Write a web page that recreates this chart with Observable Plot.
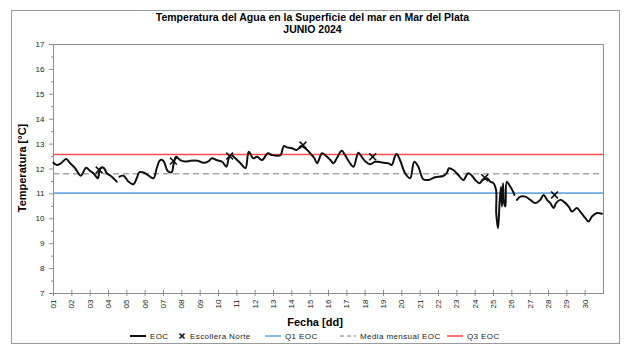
<!DOCTYPE html>
<html>
<head>
<meta charset="utf-8">
<script src="https://cdn.jsdelivr.net/npm/d3@7"></script>
<script src="https://cdn.jsdelivr.net/npm/@observablehq/plot@0.6"></script>
<style>
  html, body { margin: 0; padding: 0; background: #fff; }
  #wrap { position: relative; width: 625px; height: 350px; overflow: hidden; font-family: "Liberation Sans", Arial, sans-serif; }
  #border { position: absolute; left: 11px; top: 10px; width: 609px; height: 334px; border: 1px solid #9a9a9a; box-sizing: border-box; pointer-events: none; }
  #title { position: absolute; left: 0; top: 11px; width: 625px; text-align: center; font-family: "Liberation Sans Narrow", "Arial Narrow", "Liberation Sans", sans-serif; font-weight: bold; font-size: 10.5px; line-height: 12px; color: #000; }
  #ytitle { position: absolute; left: 22px; top: 168px; transform: translate(-50%, -50%) rotate(-90deg); white-space: nowrap; font-family: "Liberation Sans Narrow", "Arial Narrow", "Liberation Sans", sans-serif; font-weight: bold; font-size: 11px; color: #000; }
  #xtitle { position: absolute; left: 315px; top: 322px; transform: translate(-50%, -50%); white-space: nowrap; font-family: "Liberation Sans Narrow", "Arial Narrow", "Liberation Sans", sans-serif; font-weight: bold; font-size: 11px; color: #000; }
  #legend { position: absolute; left: 0; top: 331px; width: 625px; height: 12px; font-size: 8px; letter-spacing: 0.4px; color: #222; }
  .li { position: absolute; top: 0; display: flex; align-items: center; white-space: nowrap; }
  .li svg { margin-right: 4px; }
  #chart { position: absolute; left: 0; top: 0; }
</style>
</head>
<body>
<div id="wrap">
  <div id="chart"></div>
  <div id="border"></div>
  <div id="title">Temperatura del Agua en la Superficie del mar en Mar del Plata<br>JUNIO 2024</div>
  <div id="ytitle">Temperatura [°C]</div>
  <div id="xtitle">Fecha [dd]</div>
  <div id="legend"></div>
</div>
<script>
// ---- Data ----
const eocDay = [
  1.00, 1.18, 1.40, 1.69, 1.91, 2.18, 2.49, 2.78, 3.00, 3.18, 3.42, 3.55, 3.73, 3.91, 4.18, 4.45,
  4.52,
  4.60, 4.82, 5.09, 5.36, 5.54, 5.69, 6.00, 6.45, 6.63, 6.82, 7.00, 7.23, 7.45, 7.54, 7.69, 7.91,
  8.18, 8.47, 8.84, 9.20, 9.47, 9.65, 9.92, 10.20, 10.43, 10.56, 10.69, 10.92, 11.20, 11.47, 11.65,
  11.89, 12.10, 12.38, 12.69, 12.92, 13.38, 13.56, 13.74, 14.01, 14.25, 14.38, 14.50, 14.74, 15.01,
  15.23, 15.38, 15.65, 15.92, 16.10, 16.27, 16.45, 16.72, 16.90, 17.12, 17.36, 17.63, 17.81, 18.03,
  18.27, 18.54, 18.72, 18.99, 19.27, 19.45, 19.63, 19.72, 19.90, 20.18, 20.45, 20.68, 20.90, 21.17,
  21.45, 21.81, 22.26, 22.45, 22.57, 22.81, 23.08, 23.36, 23.61, 23.79, 24.01, 24.23, 24.41, 24.65,
  24.83, 25.00, 25.14, 25.15, 25.25, 25.33, 25.41, 25.46, 25.52, 25.57, 25.65, 25.72, 25.86, 26.07,
  26.14,
  26.21,
  26.28, 26.46, 26.74, 27.01, 27.28, 27.55, 27.73, 27.92, 28.10, 28.28, 28.41, 28.64, 28.83, 29.10,
  29.28, 29.55, 29.73, 30.01, 30.19, 30.37, 30.64, 30.91
];
const eocTemp = [
  12.25, 12.16, 12.23, 12.40, 12.23, 12.03, 11.73, 12.05, 11.92, 11.83, 11.63, 12.03, 12.05, 11.83, 11.69, 11.49,
  NaN,
  11.69, 11.73, 11.49, 11.39, 11.63, 11.87, 11.83, 11.63, 12.03, 12.36, 12.32, 11.92, 11.87, 12.16, 12.49, 12.36,
  12.30, 12.33, 12.33, 12.25, 12.32, 12.43, 12.35, 12.29, 12.09, 12.43, 12.56, 12.43, 12.23, 12.03, 12.69,
  12.43, 12.49, 12.36, 12.63, 12.56, 12.56, 12.92, 12.87, 12.83, 12.76, 12.83, 12.92, 12.83, 12.63,
  12.43, 12.23, 12.63, 12.49, 12.36, 12.23, 12.43, 12.73, 12.56, 12.29, 12.09, 12.65, 12.49, 12.29,
  12.19, 12.29, 12.29, 12.25, 12.23, 12.16, 12.52, 12.60, 12.36, 11.83, 11.63, 12.29, 12.09, 11.59,
  11.56, 11.67, 11.72, 11.83, 12.03, 11.96, 11.76, 11.56, 11.83, 11.76, 11.56, 11.43, 11.56, 11.63,
  11.49, 11.43, 11.16, 10.23, 9.63, 10.63, 11.29, 10.49, 11.43, 10.66, 10.49, 11.49, 11.36, 11.09,
  10.96,
  NaN,
  10.76, 10.89, 10.89, 10.76, 10.63, 10.76, 10.96, 10.76, 10.63, 10.43, 10.63, 10.76, 10.69, 10.49,
  10.29, 10.43, 10.29, 10.03, 9.89, 10.09, 10.23, 10.20
];
const enDay  = [3.49, 7.54, 10.61, 14.61, 18.41, 24.52, 28.33];
const enTemp = [11.96, 12.32, 12.52, 12.96, 12.49, 11.65, 10.96];
const q1Eoc = 11.03;
const mediaEoc = 11.81;
const q3Eoc = 12.58;
const xTickDays = [1,2,3,4,5,6,7,8,9,10,11,12,13,14,15,16,17,18,19,20,21,22,23,24,25,26,27,28,29,30];
const xTickLabels = ["01","02","03","04","05","06","07","08","09","10","11","12","13","14","15","16","17","18","19","20","21","22","23","24","25","26","27","28","29","30"];
const yTicks = [7,8,9,10,11,12,13,14,15,16,17];
const yMinor = [7.5,8.5,9.5,10.5,11.5,12.5,13.5,14.5,15.5,16.5];

// ---- Build ----
const eoc = eocDay.map((d, i) => ({day: d, temp: eocTemp[i]}));
const en = enDay.map((d, i) => ({day: d, temp: enTemp[i]}));
const labelOf = new Map(xTickDays.map((d, i) => [d, xTickLabels[i]]));

const COL_Q1 = "#6fa8dc", COL_MED = "#a6a6a6", COL_Q3 = "#ff4d4d", COL_AX = "#8c8c8c";

const chart = Plot.plot({
  width: 625,
  height: 350,
  marginLeft: 53,
  marginRight: 22,
  marginTop: 44,
  marginBottom: 57,
  style: {fontFamily: "'Liberation Sans', Arial, sans-serif", fontSize: "8px", color: "#222", background: "transparent"},
  x: {domain: [1, 31]},
  y: {domain: [7, 17]},
  marks: [
    Plot.frame({stroke: COL_AX, strokeWidth: 1}),
    Plot.ruleY([q1Eoc], {stroke: COL_Q1, strokeWidth: 1.6}),
    Plot.ruleY([mediaEoc], {stroke: COL_MED, strokeWidth: 1.6, strokeDasharray: "6,4"}),
    Plot.ruleY([q3Eoc], {stroke: COL_Q3, strokeWidth: 1.6}),
    Plot.line(eoc, {x: "day", y: "temp", curve: "catmull-rom", stroke: "#111", strokeWidth: 2}),
    Plot.dot(en, {x: "day", y: "temp", symbol: "times", r: 3.2, stroke: "#111", strokeWidth: 1.6}),
    Plot.axisY({ticks: yTicks, tickSize: 4, tickPadding: 5, label: null, stroke: COL_AX, tickFormat: d => String(d)}),
    Plot.axisY({ticks: yMinor, tickSize: 2, label: null, stroke: COL_AX, tickFormat: () => ""}),
    Plot.axisX({ticks: xTickDays, tickSize: 3, tickPadding: 3, tickRotate: -90, label: null, stroke: COL_AX, tickFormat: d => labelOf.get(d)}),
    Plot.axisX({ticks: xTickDays, tickSize: -3, label: null, stroke: COL_AX, tickFormat: () => ""})
  ]
});
document.getElementById("chart").appendChild(chart);

// ---- Legend ----
const legendItems = [
  {x: 130, label: "EOC", kind: "line", color: "#111", w: 2},
  {x: 178, label: "Escollera Norte", kind: "x"},
  {x: 265, label: "Q1 EOC", kind: "line", color: COL_Q1, w: 1.6},
  {x: 340, label: "Media mensual EOC", kind: "dash", color: COL_MED, w: 1.6},
  {x: 447, label: "Q3  EOC", kind: "line", color: COL_Q3, w: 1.6}
];
const legend = document.getElementById("legend");
for (const it of legendItems) {
  const div = document.createElement("div");
  div.className = "li";
  div.style.left = it.x + "px";
  let sw;
  if (it.kind === "x") {
    sw = `<svg width="8" height="10"><path d="M1.5,2.5L6.5,7.5M6.5,2.5L1.5,7.5" stroke="#111" stroke-width="1.6"/></svg>`;
  } else {
    const dash = it.kind === "dash" ? ` stroke-dasharray="4,3"` : "";
    sw = `<svg width="16" height="10"><line x1="0" x2="16" y1="5" y2="5" stroke="${it.color}" stroke-width="${it.w}"${dash}/></svg>`;
  }
  div.innerHTML = sw + `<span>${it.label}</span>`;
  legend.appendChild(div);
}
</script>
</body>
</html>
